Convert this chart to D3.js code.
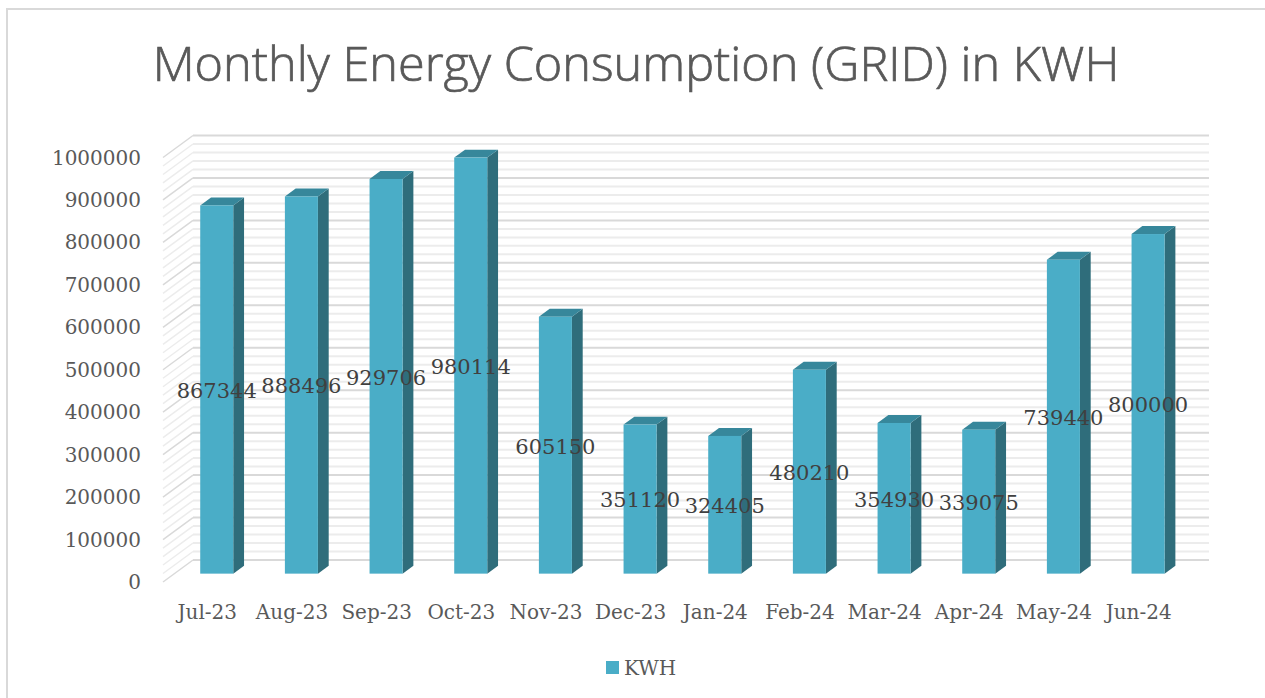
<!DOCTYPE html>
<html>
<head>
<meta charset="utf-8">
<script src="https://cdn.jsdelivr.net/npm/d3@7/dist/d3.min.js"></script>
<style>
html,body{margin:0;padding:0;background:#fff;}
svg{display:block;}
</style>
</head>
<body>
<script>
const categories = ["Jul-23","Aug-23","Sep-23","Oct-23","Nov-23","Dec-23","Jan-24","Feb-24","Mar-24","Apr-24","May-24","Jun-24"];
const kwhValues = [867344,888496,929706,980114,605150,351120,324405,480210,354930,339075,739440,800000];
const yTicks = [0,100000,200000,300000,400000,500000,600000,700000,800000,900000,1000000];
const seriesName = "KWH";
const titleText = "Monthly Energy Consumption (GRID) in KWH";

const W = 1265, H = 698;
const svg = d3.select("body").append("svg").attr("width", W).attr("height", H);

// border
svg.append("rect").attr("x",7).attr("y",9).attr("width",W+10).attr("height",H+10)
  .attr("fill","none").attr("stroke","#d9d9d9").attr("stroke-width",2);

// 3D geometry
const depthDX = 30, depthDY = -22;
const x = d3.scaleBand().domain(categories).range([163,1179]).paddingInner(0.61).paddingOuter(0.305);
const xStep = d3.scaleBand().domain(categories).range([163,1179]);
const y = d3.scaleLinear().domain([0,1000000]).range([582,157.5]);
const P = (px, py, t) => [px + depthDX*t, py + depthDY*t];

// title
const title = svg.append("text").text(titleText)
  .attr("x",636).attr("y",81).attr("text-anchor","middle")
  .attr("font-family","'Open Sans', sans-serif").attr("font-weight",300)
  .attr("font-size",48).attr("fill","#595959")
  .attr("stroke","#595959").attr("stroke-width",0.7);
const tl = title.node().getComputedTextLength();
title.attr("font-size", 48*967/tl);

// gridlines (back wall + left wall)
const gridVals = d3.range(0, 1000001, 20000);
const grid = svg.append("g");
gridVals.forEach(v => {
  const major = v % 100000 === 0;
  const col = major ? "#d9d9d9" : "#ececec";
  const [bx, by] = P(163, y(v), 1);
  grid.append("line").attr("x1",bx).attr("y1",by).attr("x2",bx+1016).attr("y2",by)
    .attr("stroke",col).attr("stroke-width",2);
  grid.append("line").attr("x1",163).attr("y1",y(v)).attr("x2",bx).attr("y2",by)
    .attr("stroke",col).attr("stroke-width",1.5);
});

// bars
const t0 = 0.38, t1 = 0.74;
const bars = svg.append("g");
categories.forEach((c,i) => {
  const v = kwhValues[i];
  const xl = x(c), xr = x(c) + x.bandwidth();
  const [fxl, fyb] = P(xl, y(0), t0);
  const [fxr] = P(xr, y(0), t0);
  const [, fyt] = P(xl, y(v), t0);
  const dx = depthDX*(t1-t0), dy = depthDY*(t1-t0);
  bars.append("path").attr("d", `M${fxr},${fyb}L${fxr+dx},${fyb+dy}L${fxr+dx},${fyt+dy}L${fxr},${fyt}Z`)
    .attr("fill","#2f6d7b");
  bars.append("path").attr("d", `M${fxl},${fyt}L${fxr},${fyt}L${fxr+dx},${fyt+dy}L${fxl+dx},${fyt+dy}Z`)
    .attr("fill","#37879b");
  bars.append("rect").attr("x",fxl).attr("y",fyt).attr("width",fxr-fxl).attr("height",fyb-fyt)
    .attr("fill","#4aadc7");
});

// y axis labels
const yAxis = svg.append("g");
yTicks.forEach(v => {
  yAxis.append("text").text(v).attr("x",141).attr("y",y(v)).attr("dy","0.35em")
    .attr("text-anchor","end").attr("font-family","'DejaVu Serif', serif")
    .attr("font-size",20).attr("fill","#595959");
});

// x axis labels
const xAxis = svg.append("g");
categories.forEach(c => {
  xAxis.append("text").text(c).attr("x", xStep(c)+xStep.bandwidth()/2 + 2).attr("y",612).attr("dy","0.35em")
    .attr("text-anchor","middle").attr("font-family","'DejaVu Serif', serif")
    .attr("font-size",20).attr("fill","#595959");
});

// data labels
const labels = svg.append("g");
categories.forEach((c,i) => {
  const v = kwhValues[i];
  const [lx, ly] = P(x(c)+x.bandwidth()/2, y(v/2), t0);
  labels.append("text").text(v).attr("x",lx).attr("y",ly+1).attr("dy","0.35em")
    .attr("text-anchor","middle").attr("font-family","'DejaVu Serif', serif")
    .attr("font-size",21).attr("fill","#404040");
});

// legend
svg.append("rect").attr("x",606).attr("y",661).attr("width",13).attr("height",13).attr("fill","#4aadc7");
svg.append("text").text(seriesName).attr("x",624).attr("y",668).attr("dy","0.35em")
  .attr("font-family","'DejaVu Serif', serif").attr("font-size",20).attr("fill","#595959");
</script>
</body>
</html>
